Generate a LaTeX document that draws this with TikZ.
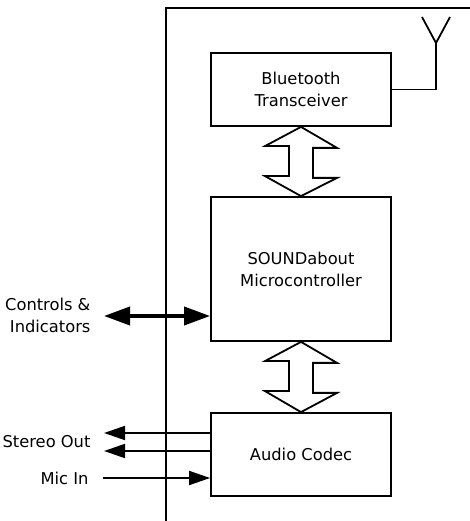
\documentclass[tikz,border=0pt]{standalone}
\usepackage{fontspec}
\setmainfont{DejaVu Sans}
\usetikzlibrary{arrows.meta}
\begin{document}
\begin{tikzpicture}[x=1pt, y=1pt,
  sys-block/.style={draw=black, line width=1.8pt, minimum width=180pt, align=center, font=\fontsize{16.3}{22}\selectfont},
  bus-arrow/.style={draw=black, line width=1.8pt, line join=miter, fill=white},
  sig-line/.style={line width=1.8pt, -{Triangle[length=21pt,width=14pt]}},
  ctl-line/.style={line width=3.8pt, {Triangle[length=26pt,width=18pt]}-{Triangle[length=26pt,width=18pt]}},
  io-label/.style={anchor=east, align=right, font=\fontsize{16.3}{22}\selectfont}
]
    \useasboundingbox (0,0) rectangle (470,521);

    % Enclosure
    \draw[line width=1.8pt] (166,0) -- (166,513) -- (470,513);

    \node[sys-block, minimum height=73pt] (BT) at (301,431.5) {Bluetooth\\Transceiver};
    \node[sys-block, minimum height=144pt] (MCU) at (301,252) {SOUNDabout\\Microcontroller};
    \node[sys-block, minimum height=83pt] (CODEC) at (301,66.5) {Audio Codec};

    \coordinate (ANT) at (436,478);
    \coordinate (CTL) at (104,205);
    \coordinate (SO1) at (104,88);
    \coordinate (SO2) at (104,70);
    \coordinate (MIC) at (103,43);

    \node[io-label] (CTLTXT) at (94,206) {Controls \&\\Indicators};
    \node[io-label] (SOTXT) at (94,79) {Stereo Out};
    \node[io-label] (MICTXT) at (92,43) {Mic In};

    % Buses
    \draw[bus-arrow] (BT.south) -- ++(36,-21) -- ++(-24,0) -- ++(0,-30) -- ++(24,0) -- (MCU.north)
        -- ++(-36,20) -- ++(24,0) -- ++(0,30) -- ++(-24,0) -- cycle;
    \draw[bus-arrow] (MCU.south) -- ++(36,-21) -- ++(-24,0) -- ++(0,-30) -- ++(24,0) -- (CODEC.north)
        -- ++(-36,21) -- ++(24,0) -- ++(0,30) -- ++(-24,0) -- cycle;

    % Antenna
    \draw[line width=1.8pt] (BT.east) -| (ANT);
    \draw[line width=1.8pt] (422,504) -- (ANT) -- (450,504);

    % Signals
    \draw[ctl-line] (CTL) -- (MCU.west |- CTL);
    \draw[sig-line] (CODEC.west |- SO1) -- (SO1);
    \draw[sig-line] (CODEC.west |- SO2) -- (SO2);
    \draw[sig-line] (MIC) -- (CODEC.west |- MIC);
\end{tikzpicture}
\end{document}
